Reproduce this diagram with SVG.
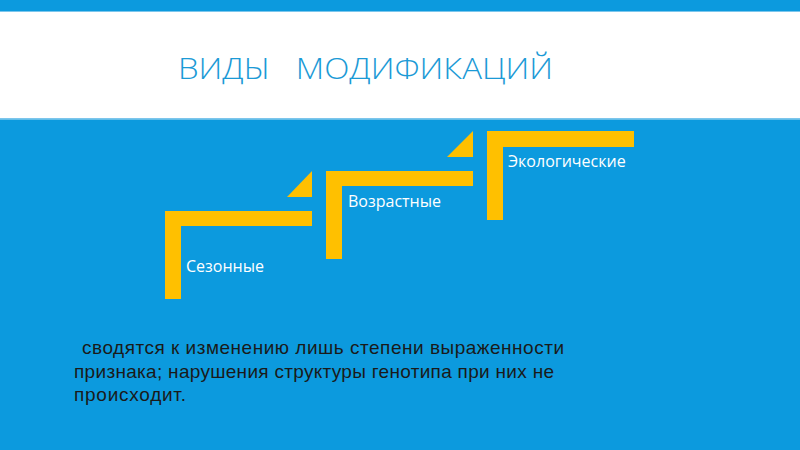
<svg xmlns="http://www.w3.org/2000/svg" width="800" height="450" viewBox="0 0 800 450">
<defs>
<style>
.band{fill:#0c9ade}
.step{fill:#ffc000}
.lbl{font-family:"Open Sans","Noto Sans","DejaVu Sans",sans-serif;font-size:16px;fill:#ffffff}
.title{font-family:"Open Sans","Noto Sans","DejaVu Sans",sans-serif;font-size:30px;fill:#1b9ad6;font-weight:300}
.body{font-family:"Liberation Sans",Arial,sans-serif;font-size:19px;fill:#1a1a1a}
</style>
</defs>
<rect x="0" y="0" width="800" height="450" fill="#ffffff"/>
<rect class="band" x="0" y="0" width="800" height="11"/>
<rect x="0" y="11" width="800" height="1" fill="#7cc6ec"/>
<rect x="0" y="118" width="800" height="1.5" fill="#7cc6ec"/>
<rect class="band" x="0" y="119.5" width="800" height="330.5"/>
<text class="title" x="178" y="79" textLength="375" lengthAdjust="spacingAndGlyphs" xml:space="preserve">ВИДЫ   МОДИФИКАЦИЙ</text>
<g id="step-seasonal">
<path class="step" d="M165,211 H312 V226 H181 V299 H165 Z"/>
<polygon class="step" points="287,197 312,197 312,171"/>
<text class="lbl" x="186" y="272">Сезонные</text>
</g>
<g id="step-age">
<path class="step" d="M326,171 H473 V186 H342 V259 H326 Z"/>
<polygon class="step" points="447,157 473,157 473,131"/>
<text class="lbl" x="348" y="207">Возрастные</text>
</g>
<g id="step-eco">
<path class="step" d="M487,131 H634 V147 H503 V220 H487 Z"/>
<text class="lbl" x="508" y="167">Экологические</text>
</g>
<g id="connectors"></g>
<text class="body"><tspan x="82" y="354" textLength="482" lengthAdjust="spacing">сводятся к изменению лишь степени выраженности</tspan><tspan x="74" y="378" textLength="480" lengthAdjust="spacing">признака; нарушения структуры генотипа при них не</tspan><tspan x="74" y="401" textLength="112" lengthAdjust="spacing">происходит.</tspan></text>
</svg>
